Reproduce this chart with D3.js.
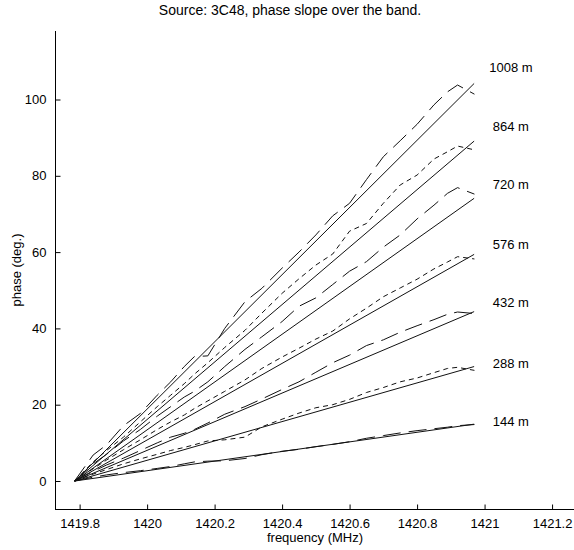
<!DOCTYPE html>
<html><head><meta charset="utf-8">
<script src="https://cdn.jsdelivr.net/npm/d3@7/dist/d3.min.js"></script>
<style>body{margin:0;background:#fff}svg{display:block}text{font-family:Arial,"Liberation Sans",sans-serif;fill:#000}</style>
</head><body><svg id="c" width="574" height="550"></svg>
<script>
const baselines = ["144 m","288 m","432 m","576 m","720 m","864 m","1008 m"];
const freq = [1419.785,1419.84,1419.88,1419.93,1419.98,1420.03,1420.07,1420.11,1420.14,1420.18,1420.23,1420.29,1420.34,1420.40,1420.45,1420.50,1420.55,1420.60,1420.65,1420.70,1420.75,1420.80,1420.85,1420.89,1420.92,1420.97];
const meas144  = [0,1.0,1.6,2.2,2.7,3.3,3.8,4.5,5.0,5.2,5.3,5.9,6.9,7.8,8.3,9.0,9.6,10.3,11.2,11.9,12.6,13.2,13.7,14.1,14.5,14.8];
const meas288  = [0,1.8,3.0,4.5,5.8,7.0,8.0,8.8,9.5,10.5,10.8,11.5,14.2,16.2,17.8,19.2,20.0,21.4,23.2,24.5,26.0,27.0,28.4,29.5,29.8,29.0];
const meas432  = [0,2.5,4.2,6.0,8.0,10.0,11.5,12.5,13.5,15.2,17.5,19.5,21.5,24.0,26.0,28.5,31.0,33.0,35.5,37.0,39.0,40.7,42.3,43.7,44.3,43.9];
const meas576  = [0,3.2,5.5,8.2,10.8,13.5,15.5,17.3,19.0,21.0,23.5,26.5,29.5,32.5,34.8,37.2,39.3,42.5,45.3,48.3,50.6,52.9,55.6,57.4,58.8,58.2];
const meas720  = [0,4.5,7.0,10.5,13.5,17.0,19.5,22.0,23.5,26.0,30.0,34.5,37.8,41.8,45.8,48.0,51.5,55.0,57.5,61.3,64.5,68.7,72.3,75.4,76.9,75.2];
const meas864  = [0,5.0,8.0,11.5,15.5,19.5,22.5,25.5,28.0,31.0,35.0,39.5,44.0,49.2,53.0,56.6,59.5,65.5,67.5,72.8,77.6,80.2,84.4,86.3,87.8,86.8];
const meas1008 = [0,6.8,9.5,14.5,17.7,22.5,26.0,30.0,32.6,32.8,40.0,47.0,50.5,55.8,60.0,64.5,69.5,72.8,79.0,85.0,89.2,93.5,98.6,102.0,103.8,101.4];
const modelStartFreq = 1419.786, modelEndFreq = 1420.969;
const modelEnd = [14.9,30.0,44.4,59.4,74.1,89.1,104.2];
const labelFreq = 1421.078;
const labelPhase = [15.5,30.9,46.7,62.1,77.6,92.8,108.5];
const xTicks = [1419.8,1420,1420.2,1420.4,1420.6,1420.8,1421,1421.2];
const yTicks = [0,20,40,60,80,100];
const title = "Source: 3C48, phase slope over the band.";
const xLabel = "frequency (MHz)", yLabel = "phase (deg.)";

const measured = [meas144,meas288,meas432,meas576,meas720,meas864,meas1008];
const styles = ["18,8","5,4","18,8","5,4","18,8","5,4","18,8"];

const svg = d3.select("#c");
const x = d3.scaleLinear().domain([1419.73,1421.265]).range([56,574]);
const y = d3.scaleLinear().domain([-7.34,117.96]).range([509,31]);

const line = d3.line().x(d=>x(d[0])).y(d=>y(d[1]));
const g = svg.append("g");
modelEnd.forEach((v,i)=>{
  g.append("path").attr("d", line([[modelStartFreq,0],[modelEndFreq,v]]))
   .attr("fill","none").attr("stroke","#111").attr("stroke-width",1);
});
measured.forEach((arr,i)=>{
  g.append("path").attr("d", line(freq.map((f,j)=>[f,arr[j]])))
   .attr("fill","none").attr("stroke","#111").attr("stroke-width",1)
   .attr("stroke-dasharray",styles[i]);
});
baselines.forEach((t,i)=>{
  svg.append("text").attr("x",x(labelFreq)).attr("y",y(labelPhase[i]))
   .attr("text-anchor","middle").attr("dominant-baseline","central")
   .attr("font-size",13).text(t);
});
const xa = d3.axisBottom(x).tickValues(xTicks).tickSize(-5).tickPadding(9).tickFormat(d=>String(+d.toFixed(1)));
const ya = d3.axisLeft(y).tickValues(yTicks).tickSize(-5).tickPadding(9);
const gx = svg.append("g").attr("transform","translate(0,509.5)").call(xa);
const gy = svg.append("g").attr("transform","translate(55.5,0)").call(ya);
[gx,gy].forEach(a=>{a.selectAll("text").attr("font-size",13).attr("font-family",'Arial,"Liberation Sans",sans-serif');
  a.select(".domain").remove(); a.selectAll("line").attr("stroke","#000");});
svg.append("line").attr("x1",55.5).attr("x2",55.5).attr("y1",31).attr("y2",510).attr("stroke","#000");
svg.append("line").attr("x1",55).attr("x2",574).attr("y1",509.5).attr("y2",509.5).attr("stroke","#000");
svg.append("text").attr("x",290).attr("y",15).attr("text-anchor","middle").attr("font-size",14).text(title);
svg.append("text").attr("x",315).attr("y",542).attr("text-anchor","middle").attr("font-size",13).text(xLabel);
svg.append("text").attr("transform","translate(21,270) rotate(-90)").attr("text-anchor","middle").attr("font-size",13).text(yLabel);
</script></body></html>
